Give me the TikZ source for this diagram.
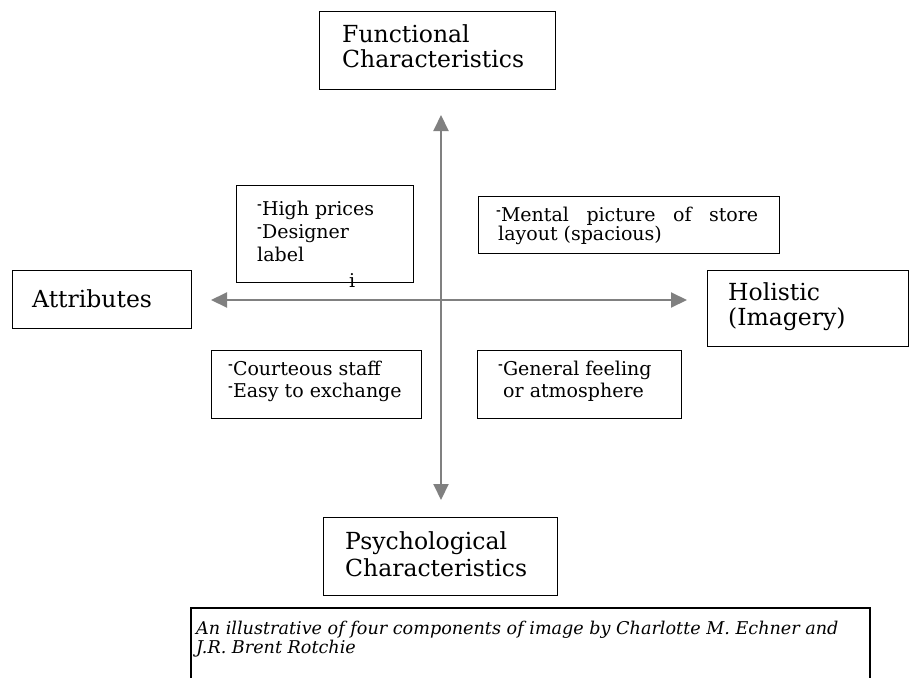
\documentclass[tikz,border=0pt]{standalone}
\usepackage{fontspec}
\usepackage{graphicx}
\setmainfont{DejaVu Serif}
\usetikzlibrary{arrows.meta}
\definecolor{axisgray}{RGB}{128,128,128}
\newcommand\rdash{\raisebox{0.22em}{\scalebox{0.75}[1]{-}}}
\tikzset{
  box/.style={draw=black,line width=1.1pt,rectangle,anchor=north west,inner sep=0pt},
  txt/.style={anchor=base west,inner sep=0pt},
  big/.style={txt,font=\fontsize{23.5}{26}\selectfont},
  small/.style={txt,font=\fontsize{19}{22}\selectfont},
  captxt/.style={txt,font=\fontsize{17.6}{20}\selectfont\itshape},
  axis/.style={draw=axisgray,line width=2pt,{Triangle[length=16pt,width=15pt]}-{Triangle[length=16pt,width=15pt]}},
}
\begin{document}
\begin{tikzpicture}[x=1pt,y=-1pt]
\useasboundingbox[fill=white] (0,0) rectangle (909,677);
% axes
\coordinate (vt) at (441,115);
\coordinate (vb) at (441,500);
\coordinate (hl) at (211,300);
\coordinate (hr) at (687,300);
\draw[axis] (vb) -- (vt);
\draw[axis] (hl) -- (hr);
% boxes
\node[box,minimum width=236pt,minimum height=78pt] (func) at (319,11) {};
\node[big] (func1) at (342,42) {Functional};
\node[big] (func2) at (342,67) {Characteristics};
\node[box,minimum width=234pt,minimum height=78pt] (psych) at (323,517) {};
\node[big] (psych1) at (345,549) {Psychological};
\node[big] (psych2) at (345,576) {Characteristics};
\node[box,minimum width=179pt,minimum height=58pt] (attr) at (12,270) {};
\node[big] (attr1) at (32,307) {Attributes};
\node[box,minimum width=201pt,minimum height=76pt] (hol) at (707,270) {};
\node[big] (hol1) at (728,300) {Holistic};
\node[big] (hol2) at (728,325) {(Imagery)};
\node[box,minimum width=177pt,minimum height=97pt] (high) at (236,185) {};
\node[small] (high1) at (257,215) {\rdash High prices};
\node[small] (high2) at (257,238) {\rdash Designer};
\node[small] (high3) at (257,261) {label};
\node[small] (highi) at (349,287) {i};
\node[box,minimum width=301pt,minimum height=57pt] (ment) at (478,196) {};
\node[small] (ment1) at (496,221) {\hbox to 262pt{\rdash Mental\hfill picture\hfill of\hfill store}};
\node[small] (ment2) at (498,240) {layout (spacious)};
\node[box,minimum width=210pt,minimum height=68pt] (court) at (211,350) {};
\node[small] (court1) at (228,375) {\rdash Courteous staff};
\node[small] (court2) at (228,397) {\rdash Easy to exchange};
\node[box,minimum width=204pt,minimum height=68pt] (gen) at (477,350) {};
\node[small] (gen1) at (498,375) {\rdash General feeling};
\node[small] (gen2) at (503,397) {or atmosphere};
% caption
\draw[black,line width=1.1pt] (191,690) coordinate (cbl) -- (191,608) coordinate (ctl) -- (870,608) coordinate (ctr) -- (870,690) coordinate (cbr);
\node[captxt] (cap1) at (196,634) {An illustrative of four components of image by Charlotte M. Echner and};
\node[captxt] (cap2) at (196,653) {J.R. Brent Rotchie};
\end{tikzpicture}
\end{document}
